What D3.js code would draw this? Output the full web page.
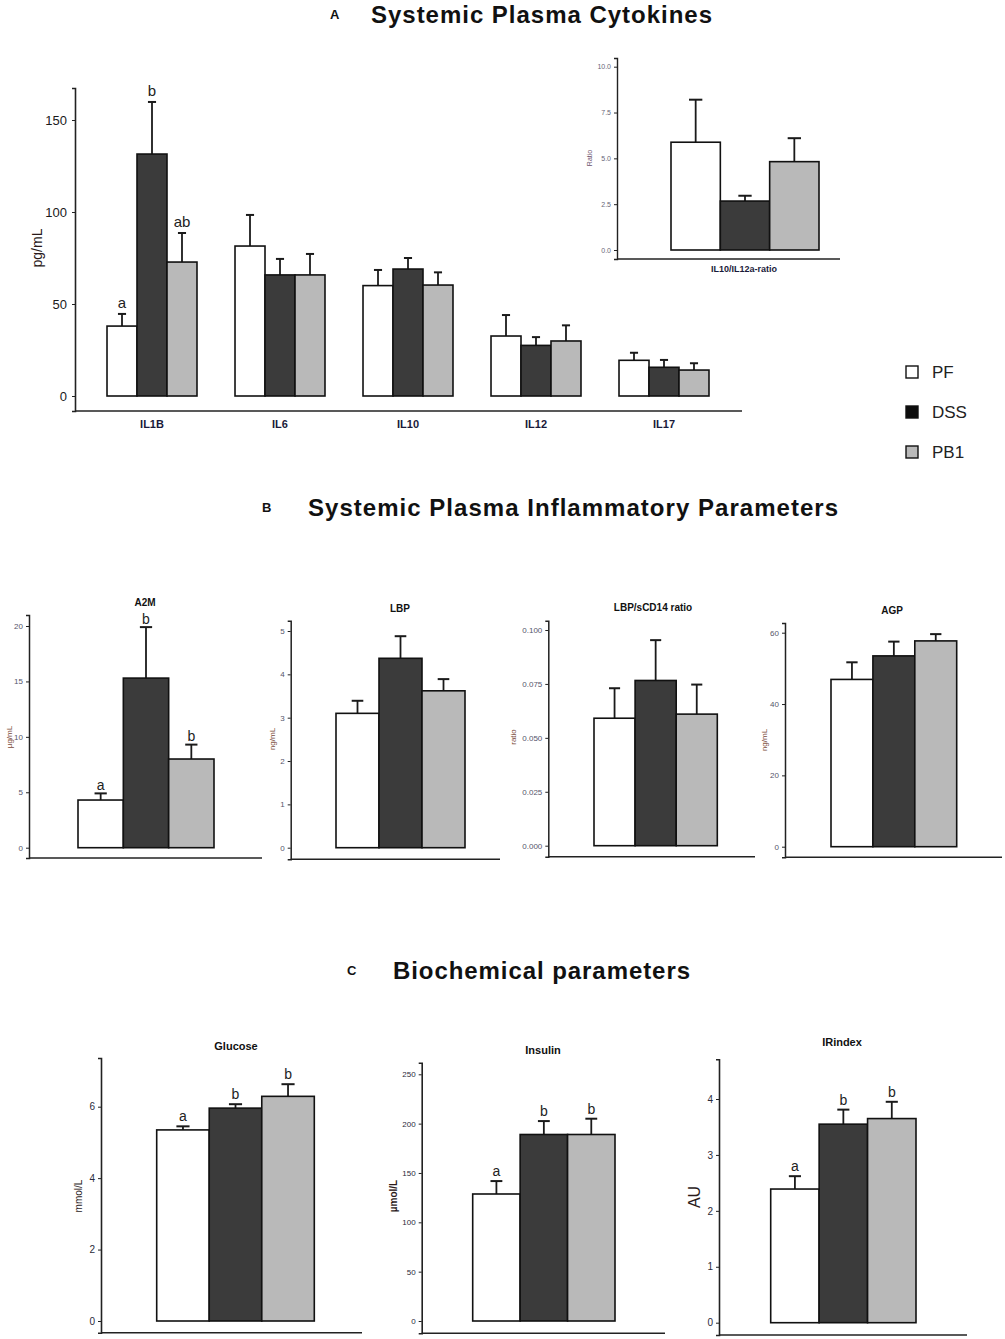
<!DOCTYPE html>
<html><head><meta charset="utf-8">
<script src="https://cdn.jsdelivr.net/npm/d3@7"></script>
<style>body{margin:0;background:#fff}svg{display:block}</style>
</head><body>
<script>
// ---------------- DATA ----------------
const groups = ["PF", "DSS", "PB1"];
const cytokineCategories = ["IL1B", "IL6", "IL10", "IL12", "IL17"];
const cytokinePF = [38, 81.5, 60, 32.6, 19.4];
const cytokinePFsem = [6.6, 16.9, 8.5, 11.4, 4.1];
const cytokineDSS = [131.5, 65.8, 69, 27.5, 15.6];
const cytokineDSSsem = [28.3, 8.7, 6, 4.5, 4.0];
const cytokinePB1 = [72.8, 65.8, 60.3, 29.9, 14.1];
const cytokinePB1sem = [15.8, 11.4, 6.9, 8.5, 3.7];
const cytokineLetters = [["a", "b", "ab"], ["", "", ""], ["", "", ""], ["", "", ""], ["", "", ""]];
const cytokineTicks = [0, 50, 100, 150];

const ratioMeans = [5.88, 2.67, 4.82];
const ratioSem = [2.32, 0.29, 1.28];
const ratioTicks = [0, 2.5, 5, 7.5, 10];

const a2mMeans = [4.3, 15.3, 8.0];
const a2mSem = [0.6, 4.6, 1.3];
const a2mLetters = ["a", "b", "b"];
const a2mTicks = [0, 5, 10, 15, 20];

const lbpMeans = [3.1, 4.37, 3.62];
const lbpSem = [0.29, 0.51, 0.27];
const lbpTicks = [0, 1, 2, 3, 4, 5];

const lbpRatioMeans = [0.0591, 0.0766, 0.061];
const lbpRatioSem = [0.0139, 0.0187, 0.0137];
const lbpRatioTicks = [0, 0.025, 0.05, 0.075, 0.1];

const agpMeans = [46.9, 53.5, 57.7];
const agpSem = [4.8, 4.0, 1.9];
const agpTicks = [0, 20, 40, 60];

const glucoseMeans = [5.35, 5.96, 6.29];
const glucoseSem = [0.10, 0.11, 0.34];
const glucoseLetters = ["a", "b", "b"];
const glucoseTicks = [0, 2, 4, 6];

const insulinMeans = [128.7, 189, 189];
const insulinSem = [13.1, 13.6, 16];
const insulinLetters = ["a", "b", "b"];
const insulinTicks = [0, 50, 100, 150, 200, 250];

const irMeans = [2.39, 3.55, 3.65];
const irSem = [0.23, 0.26, 0.30];
const irLetters = ["a", "b", "b"];
const irTicks = [0, 1, 2, 3, 4];

// ---------------- STYLE ----------------
const FONT = "'Liberation Sans', Arial, sans-serif";
const fillColor = d3.scaleOrdinal().domain(groups).range(["#ffffff", "#3b3b3b", "#b9b9b9"]);

const svg = d3.select("body").append("svg").attr("width", 1005).attr("height", 1339)
  .style("font-family", FONT);

// ---------------- helpers ----------------
function makeY(cfg, ticks) {
  const tmax = ticks[ticks.length - 1];
  const base = d3.scaleLinear().domain([0, tmax]).range([cfg.y0, cfg.yMax]);
  return d3.scaleLinear().domain([base.invert(cfg.xAxisY), base.invert(cfg.axisTop)])
    .range([cfg.xAxisY, cfg.axisTop]);
}

function drawYAxis(g, cfg, y, ticks, fmt) {
  const ax = g.append("g").attr("transform", `translate(${cfg.axisX},0)`)
    .call(d3.axisLeft(y).tickValues(ticks).tickSizeOuter(0).tickSize(3).tickPadding(cfg.tickPad || 3)
      .tickFormat(fmt ? d3.format(fmt) : d3.format("")));
  ax.select(".domain").attr("stroke", "#222").attr("stroke-width", cfg.axisW || 1.6);
  ax.selectAll(".tick line").attr("stroke", "#222").attr("stroke-width", 1);
  ax.selectAll(".tick text").attr("font-size", cfg.tickFont).attr("fill", cfg.tickColor)
    .attr("font-family", FONT).attr("font-weight", cfg.tickWeight || "normal");
  g.append("line").attr("x1", cfg.axisX).attr("x2", cfg.xEnd)
    .attr("y1", cfg.xAxisY).attr("y2", cfg.xAxisY)
    .attr("stroke", "#222").attr("stroke-width", cfg.axisW || 1.6);
}

function drawBars(g, items, y, capFrac, letterFont, letterGap) {
  items.forEach(d => {
    const top = y(d.mean + d.sem);
    const cx = d.x + d.w / 2;
    const cap = d.w * capFrac;
    g.append("line").attr("x1", cx).attr("x2", cx).attr("y1", y(d.mean)).attr("y2", top)
      .attr("stroke", "#1a1a1a").attr("stroke-width", 1.8);
    g.append("line").attr("x1", cx - cap / 2).attr("x2", cx + cap / 2).attr("y1", top).attr("y2", top)
      .attr("stroke", "#1a1a1a").attr("stroke-width", 2);
  });
  items.forEach(d => {
    g.append("rect").attr("x", d.x).attr("y", y(d.mean)).attr("width", d.w)
      .attr("height", y(0) - y(d.mean)).attr("fill", fillColor(d.group))
      .attr("stroke", "#111").attr("stroke-width", 1.6);
  });
  items.forEach(d => {
    if (!d.letter) return;
    g.append("text").attr("x", d.x + d.w / 2).attr("y", y(d.mean + d.sem) - letterGap)
      .attr("text-anchor", "middle").attr("font-size", letterFont).attr("fill", "#222").text(d.letter);
  });
}

function singlePanel(cfg, means, sems, letters, ticks, fmt) {
  const g = svg.append("g");
  const y = makeY(cfg, ticks);
  drawYAxis(g, cfg, y, ticks, fmt);
  const x = d3.scaleBand().domain(groups).range([cfg.barL, cfg.barR]).padding(0);
  const items = groups.map((k, i) => ({
    x: x(k), w: x.bandwidth(), group: k, mean: means[i], sem: sems[i], letter: letters ? letters[i] : ""
  }));
  drawBars(g, items, y, cfg.capFrac || 0.25, cfg.letterFont || 15, cfg.letterGap || 5);
  if (cfg.title) {
    g.append("text").attr("x", cfg.titleX).attr("y", cfg.titleY).attr("text-anchor", "middle")
      .attr("font-size", cfg.titleFont).attr("font-weight", "bold").attr("fill", "#111").text(cfg.title);
  }
  if (cfg.ylabel) {
    g.append("text").attr("transform", `translate(${cfg.ylabX},${cfg.ylabY}) rotate(-90)`)
      .attr("text-anchor", "middle").attr("font-size", cfg.ylabFont).attr("fill", cfg.ylabColor)
      .attr("font-weight", cfg.ylabWeight || "normal").text(cfg.ylabel);
  }
  return g;
}

// ---------------- Section titles ----------------
function sectionTitle(letter, lx, text, tx, tEnd, baseY) {
  svg.append("text").attr("x", lx).attr("y", baseY - 4).attr("font-size", 13).attr("font-weight", "bold")
    .attr("fill", "#111").text(letter);
  svg.append("text").attr("x", tx).attr("y", baseY).attr("font-size", 24).attr("font-weight", "bold")
    .attr("fill", "#111").attr("textLength", tEnd - tx).attr("lengthAdjust", "spacing").text(text);
}
sectionTitle("A", 330, "Systemic Plasma Cytokines", 371, 712, 23);
sectionTitle("B", 262, "Systemic Plasma Inflammatory Parameters", 308, 838, 516);
sectionTitle("C", 347, "Biochemical parameters", 393, 690, 979);

// ---------------- Panel A main ----------------
(function () {
  const cfg = { y0: 396, yMax: 120, axisTop: 88, xAxisY: 411, axisX: 75, xEnd: 742,
    tickFont: 13, tickColor: "#1a1a1a", tickPad: 5 };
  const g = svg.append("g");
  const y = makeY(cfg, cytokineTicks);
  drawYAxis(g, cfg, y, cytokineTicks);
  const x0 = d3.scaleBand().domain(cytokineCategories).range([88, 728]).paddingInner(0.297).paddingOuter(0.1485);
  const x1 = d3.scaleBand().domain(groups).range([0, x0.bandwidth()]);
  const series = [[cytokinePF, cytokinePFsem], [cytokineDSS, cytokineDSSsem], [cytokinePB1, cytokinePB1sem]];
  const items = [];
  cytokineCategories.forEach((c, ci) => {
    groups.forEach((k, gi) => {
      items.push({ x: x0(c) + x1(k), w: x1.bandwidth(), group: k,
        mean: series[gi][0][ci], sem: series[gi][1][ci], letter: cytokineLetters[ci][gi] });
    });
  });
  drawBars(g, items, y, 0.27, 15, 6);
  cytokineCategories.forEach(c => {
    g.append("text").attr("x", x0(c) + x0.bandwidth() / 2).attr("y", 428).attr("text-anchor", "middle")
      .attr("font-size", 11).attr("font-weight", "bold").attr("fill", "#1a1a3a").text(c);
  });
  g.append("text").attr("transform", "translate(42,248) rotate(-90)").attr("text-anchor", "middle")
    .attr("font-size", 14).attr("fill", "#2a1a1a").text("pg/mL");
})();

// ---------------- Inset ratio ----------------
(function () {
  const g = singlePanel({ y0: 250, yMax: 66.7, axisTop: 58, xAxisY: 259, axisX: 617, xEnd: 840,
    barL: 671, barR: 819, tickFont: 7, tickColor: "#666677", capFrac: 0.27,
    ylabel: "Ratio", ylabX: 592, ylabY: 158, ylabFont: 7, ylabColor: "#6b4f6b", axisW: 1.4 },
    ratioMeans, ratioSem, null, ratioTicks, ".1f");
  g.append("text").attr("x", 744).attr("y", 272).attr("text-anchor", "middle").attr("font-size", 9)
    .attr("font-weight", "bold").attr("fill", "#1a1a3a").text("IL10/IL12a-ratio");
})();

// ---------------- Legend ----------------
groups.forEach((k, i) => {
  const yy = 366 + i * 40;
  svg.append("rect").attr("x", 906).attr("y", yy).attr("width", 12).attr("height", 12)
    .attr("fill", k === "DSS" ? "#0d0d0d" : fillColor(k)).attr("stroke", "#111").attr("stroke-width", 1.4);
  svg.append("text").attr("x", 932).attr("y", yy + 12).attr("font-size", 17).attr("fill", "#222").text(k);
});

// ---------------- Panel B ----------------
const bTick = { tickFont: 8, tickColor: "#55556a", ylabFont: 8, ylabColor: "#7a4a3a", axisW: 1.5,
  titleFont: 10, capFrac: 0.27 };
singlePanel(Object.assign({}, bTick, { y0: 847.7, yMax: 626, axisTop: 615, xAxisY: 858, axisX: 29, xEnd: 262,
  barL: 78, barR: 214, title: "A2M", titleX: 145, titleY: 606, ylabel: "µg/mL", ylabX: 12, ylabY: 737,
  letterFont: 14, letterGap: 3.5 }),
  a2mMeans, a2mSem, a2mLetters, a2mTicks);
singlePanel(Object.assign({}, bTick, { y0: 847.7, yMax: 631, axisTop: 620.7, xAxisY: 859.3, axisX: 290.7, xEnd: 500,
  barL: 336, barR: 465, title: "LBP", titleX: 400, titleY: 612, ylabel: "ng/mL", ylabX: 275, ylabY: 739 }),
  lbpMeans, lbpSem, null, lbpTicks);
singlePanel(Object.assign({}, bTick, { y0: 845.7, yMax: 630, axisTop: 620.7, xAxisY: 856.7, axisX: 548.3, xEnd: 755,
  barL: 594, barR: 717.3, title: "LBP/sCD14 ratio", titleX: 653, titleY: 611, ylabel: "ratio", ylabX: 516, ylabY: 737 }),
  lbpRatioMeans, lbpRatioSem, null, lbpRatioTicks, ".3f");
singlePanel(Object.assign({}, bTick, { y0: 846.7, yMax: 632.7, axisTop: 623, xAxisY: 857.3, axisX: 785, xEnd: 1002,
  barL: 831, barR: 956.7, title: "AGP", titleX: 892, titleY: 614, ylabel: "ng/mL", ylabX: 767, ylabY: 740 }),
  agpMeans, agpSem, null, agpTicks);

// ---------------- Panel C ----------------
const cTick = { tickFont: 10, tickColor: "#2a2a3a", axisW: 1.6, titleFont: 11, capFrac: 0.25, letterFont: 14, letterGap: 5 };
singlePanel(Object.assign({}, cTick, { y0: 1321, yMax: 1106.7, axisTop: 1058, xAxisY: 1332.7, axisX: 101, xEnd: 362,
  barL: 156.7, barR: 314.3, title: "Glucose", titleX: 236, titleY: 1050,
  ylabel: "mmol/L", ylabX: 82, ylabY: 1196, ylabFont: 10, ylabColor: "#2a1a1a" }),
  glucoseMeans, glucoseSem, glucoseLetters, glucoseTicks);
singlePanel(Object.assign({}, cTick, { y0: 1321, yMax: 1074.3, axisTop: 1062.7, xAxisY: 1333.3, axisX: 421.7, xEnd: 665,
  barL: 472.7, barR: 615, title: "Insulin", titleX: 543, titleY: 1054, tickFont: 8,
  ylabel: "µmol/L", ylabX: 397, ylabY: 1196, ylabFont: 10, ylabColor: "#2a1a1a", ylabWeight: "bold" }),
  insulinMeans, insulinSem, insulinLetters, insulinTicks);
singlePanel(Object.assign({}, cTick, { y0: 1322.7, yMax: 1099, axisTop: 1059.3, xAxisY: 1335, axisX: 719, xEnd: 967,
  barL: 770.7, barR: 916, title: "IRindex", titleX: 842, titleY: 1046, titleFont: 11,
  ylabel: "AU", ylabX: 700, ylabY: 1197, ylabFont: 16, ylabColor: "#2a1a1a" }),
  irMeans, irSem, irLetters, irTicks);
</script>
</body></html>
